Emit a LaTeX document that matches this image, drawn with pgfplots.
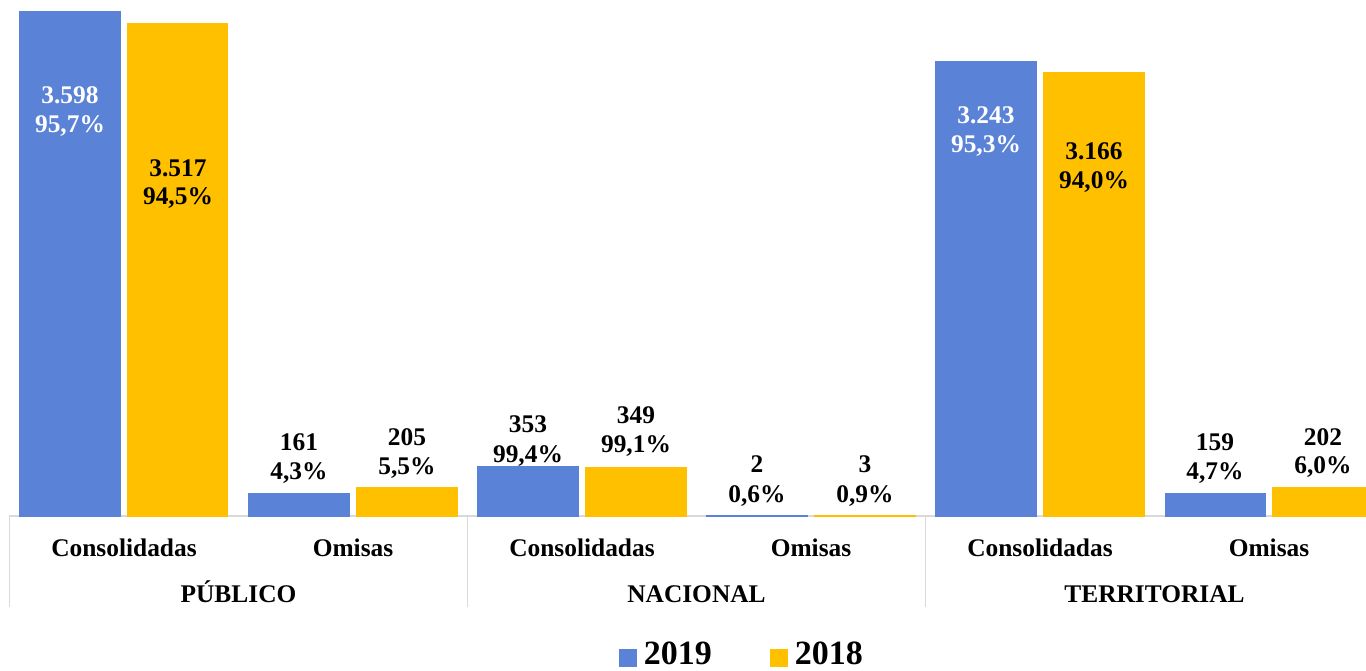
\documentclass[border=0pt]{standalone}
\usepackage{pgfplots}
\pgfplotsset{compat=1.18}
\usepackage{fontspec}
\setmainfont{Liberation Serif}
\definecolor{cblue}{RGB}{90,130,214}
\definecolor{cgold}{RGB}{255,192,0}
\definecolor{sepgray}{RGB}{217,217,217}
\newcommand{\lblfont}{\fontsize{12.7pt}{14pt}\selectfont\bfseries}
\newcommand{\lbl}[6]{%
  \node[anchor=base,yshift=#2pt,font=\lblfont,text=#6,inner sep=0pt] at (axis cs:#1,0) {#4};
  \node[anchor=base,yshift=#3pt,font=\lblfont,text=#6,inner sep=0pt] at (axis cs:#1,0) {#5};}
\begin{document}
\begin{tikzpicture}
\begin{axis}[
  at={(4.75pt,77pt)}, anchor=south west,
  width=678.25pt, height=258pt, scale only axis,
  xmin=-0.5, xmax=5.4236, ymin=0, ymax=3683.6,
  hide axis, clip=false,
  ybar, bar width=0.4367,
  legend columns=2,
  legend style={draw=none, fill=none, at={(0.5407,-0.2684)}, anchor=center,
    font=\fontsize{17pt}{20pt}\selectfont\bfseries,
    inner sep=0pt, outer sep=0pt,
    /tikz/every even column/.append style={column sep=27pt},
    nodes={inner sep=2pt}},
  legend image code/.code={\path[#1, draw=none] (0pt,-6pt) rectangle (9pt,3pt);},
]
% axis line and separators
\draw[sepgray, line width=0.9pt] (axis cs:-0.5,0) -- (axis cs:5.4236,0);
\draw[sepgray, line width=0.9pt] (axis cs:-0.5,0) -- ([yshift=-45.5pt]axis cs:-0.5,0);
\draw[sepgray, line width=0.9pt] (axis cs:1.5,0) -- ([yshift=-45.5pt]axis cs:1.5,0);
\draw[sepgray, line width=0.9pt] (axis cs:3.5,0) -- ([yshift=-45.5pt]axis cs:3.5,0);
\addplot[fill=cblue, draw=cblue, line width=0.5pt, bar shift=-0.2358] coordinates {(0,3598) (1,161) (2,353) (3,2) (4,3243) (5,159)};
\addlegendentry{\hspace{1.5pt}2019}
\addplot[fill=cgold, draw=cgold, line width=0.5pt, bar shift=0.2358] coordinates {(0,3517) (1,205) (2,349) (3,3) (4,3166) (5,202)};
\addlegendentry{\hspace{1.5pt}2018}
% category labels
\node[anchor=base,yshift=-20pt,font=\lblfont,inner sep=0pt] at (axis cs:0,0) {Consolidadas};
\node[anchor=base,yshift=-20pt,font=\lblfont,inner sep=0pt] at (axis cs:1,0) {Omisas};
\node[anchor=base,yshift=-20pt,font=\lblfont,inner sep=0pt] at (axis cs:2,0) {Consolidadas};
\node[anchor=base,yshift=-20pt,font=\lblfont,inner sep=0pt] at (axis cs:3,0) {Omisas};
\node[anchor=base,yshift=-20pt,font=\lblfont,inner sep=0pt] at (axis cs:4,0) {Consolidadas};
\node[anchor=base,yshift=-20pt,font=\lblfont,inner sep=0pt] at (axis cs:5,0) {Omisas};
\node[anchor=base,yshift=-43pt,font=\lblfont,inner sep=0pt] at (axis cs:0.5,0) {PÚBLICO};
\node[anchor=base,yshift=-43pt,font=\lblfont,inner sep=0pt] at (axis cs:2.5,0) {NACIONAL};
\node[anchor=base,yshift=-43pt,font=\lblfont,inner sep=0pt] at (axis cs:4.5,0) {TERRITORIAL};
% data labels
\lbl{-0.2358}{206}{191.65}{3.598}{95,7\%}{white}
\lbl{0.2358}{169.65}{155.5}{3.517}{94,5\%}{black}
\lbl{0.7642}{32.65}{18.35}{161}{4,3\%}{black}
\lbl{1.2358}{35.5}{21}{205}{5,5\%}{black}
\lbl{1.7642}{41.65}{26.65}{353}{99,4\%}{black}
\lbl{2.2358}{46.5}{31.65}{349}{99,1\%}{black}
\lbl{2.7642}{21.65}{7}{2}{0,6\%}{black}
\lbl{3.2358}{21.65}{7}{3}{0,9\%}{black}
\lbl{3.7642}{196}{181.65}{3.243}{95,3\%}{white}
\lbl{4.2358}{178}{163.5}{3.166}{94,0\%}{black}
\lbl{4.7642}{32.65}{18.35}{159}{4,7\%}{black}
\lbl{5.2358}{35.5}{21.35}{202}{6,0\%}{black}
\end{axis}
\pgfresetboundingbox
\path[use as bounding box] (0,0) rectangle (683pt,335pt);
\end{tikzpicture}
\end{document}
